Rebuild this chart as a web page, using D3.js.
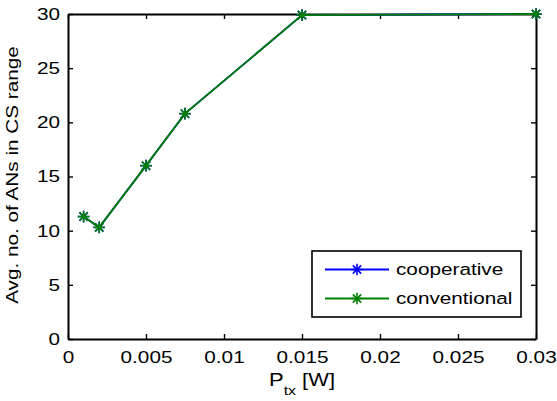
<!DOCTYPE html>
<html>
<head>
<meta charset="utf-8">
<script src="https://cdn.jsdelivr.net/npm/d3@7"></script>
<style>
  body { margin: 0; background: #fff; }
  text { font-family: "Liberation Sans", Arial, sans-serif; fill: #000; }
</style>
</head>
<body>
<svg id="chart" width="557" height="401"></svg>
<script>
// data
const ptx = [0.001, 0.002, 0.005, 0.0075, 0.015, 0.03];
const cooperative = [11.3, 10.3, 16.0, 20.8, 29.9, 30];
const conventional = [11.3, 10.3, 16.0, 20.8, 29.9, 30];
const xTicks = [0, 0.005, 0.01, 0.015, 0.02, 0.025, 0.03];
const yTicks = [0, 5, 10, 15, 20, 25, 30];
const seriesNames = ['cooperative', 'conventional'];
const seriesColors = ['#0000ff', '#008000'];

const svg = d3.select('#chart');
const m = { left: 68, right: 536, top: 14, bottom: 339 };
const fs = 17;      // font size
const sx = 1.22;    // the original text is set wide

const x = d3.scaleLinear().domain([0, 0.03]).range([m.left, m.right]);
const y = d3.scaleLinear().domain([0, 30]).range([m.bottom, m.top]);

const fmt = (d) => d === 0 ? '0' : String(d);

// axes with inward ticks, mirrored
const axes = [
  { ax: d3.axisBottom(x).tickValues(xTicks).tickFormat(fmt).tickSizeInner(-5).tickSizeOuter(0).tickPadding(12), at: `translate(0,${m.bottom})` },
  { ax: d3.axisTop(x).tickValues(xTicks).tickFormat('').tickSizeInner(-5).tickSizeOuter(0), at: `translate(0,${m.top})` },
  { ax: d3.axisLeft(y).tickValues(yTicks).tickFormat(fmt).tickSizeInner(-5).tickSizeOuter(0).tickPadding(8), at: `translate(${m.left},0)` },
  { ax: d3.axisRight(y).tickValues(yTicks).tickFormat('').tickSizeInner(-5).tickSizeOuter(0), at: `translate(${m.right},0)` }
];

axes.forEach(({ ax, at }) => {
  const g = svg.append('g').attr('transform', at).call(ax);
  g.select('.domain').attr('stroke', '#000').attr('stroke-width', 2);
  g.selectAll('.tick line').attr('stroke', '#000').attr('stroke-width', 1.4);
  g.selectAll('.tick text')
    .style('font-size', fs + 'px')
    .attr('fill', '#000')
    .attr('x', function() { return (+d3.select(this).attr('x') || 0) / sx; })
    .attr('transform', `scale(${sx},1)`);
});

// series
const line = d3.line().x((d, i) => x(ptx[i])).y((d) => y(d));

function star(g, cx, cy, color, r = 5.8) {
  const s = g.append('g').attr('transform', `translate(${cx},${cy})`)
    .attr('stroke', color).attr('stroke-width', 1.6);
  s.append('line').attr('x1', -r).attr('x2', r);
  s.append('line').attr('y1', -r).attr('y2', r);
  const k = r * 0.72;
  s.append('line').attr('x1', -k).attr('y1', -k).attr('x2', k).attr('y2', k);
  s.append('line').attr('x1', -k).attr('y1', k).attr('x2', k).attr('y2', -k);
}

[cooperative, conventional].forEach((vals, si) => {
  const g = svg.append('g');
  g.append('path')
    .attr('d', line(vals))
    .attr('fill', 'none')
    .attr('stroke', seriesColors[si])
    .attr('stroke-width', 1.8);
  vals.forEach((v, i) => star(g, x(ptx[i]), y(v), seriesColors[si]));
});

// legend
const lg = svg.append('g');
lg.append('rect')
  .attr('x', 312).attr('y', 251).attr('width', 209).attr('height', 66)
  .attr('fill', '#fff').attr('stroke', '#000').attr('stroke-width', 1.6);
seriesNames.forEach((name, i) => {
  const yy = 269.5 + i * 29;
  lg.append('line').attr('x1', 325).attr('x2', 389).attr('y1', yy).attr('y2', yy)
    .attr('stroke', seriesColors[i]).attr('stroke-width', 1.8);
  star(lg, 357, yy, seriesColors[i]);
  lg.append('text')
    .attr('transform', `translate(396,${yy}) scale(${sx},1)`)
    .attr('dy', '0.33em')
    .style('font-size', fs + 'px')
    .text(name);
});

// axis titles
svg.append('text')
  .attr('transform', `translate(17.5,175) rotate(-90) scale(${sx},1)`)
  .attr('text-anchor', 'middle')
  .style('font-size', fs + 'px')
  .text('Avg. no. of ANs in CS range');

const xt = svg.append('text')
  .attr('transform', `translate(${x(0.015)},386) scale(${sx},1)`)
  .attr('text-anchor', 'middle')
  .style('font-size', '18px');
xt.append('tspan').text('P');
xt.append('tspan').attr('dy', 9).style('font-size', '13px').text('tx');
xt.append('tspan').attr('dy', -9).text(' [W]');
</script>
</body>
</html>
